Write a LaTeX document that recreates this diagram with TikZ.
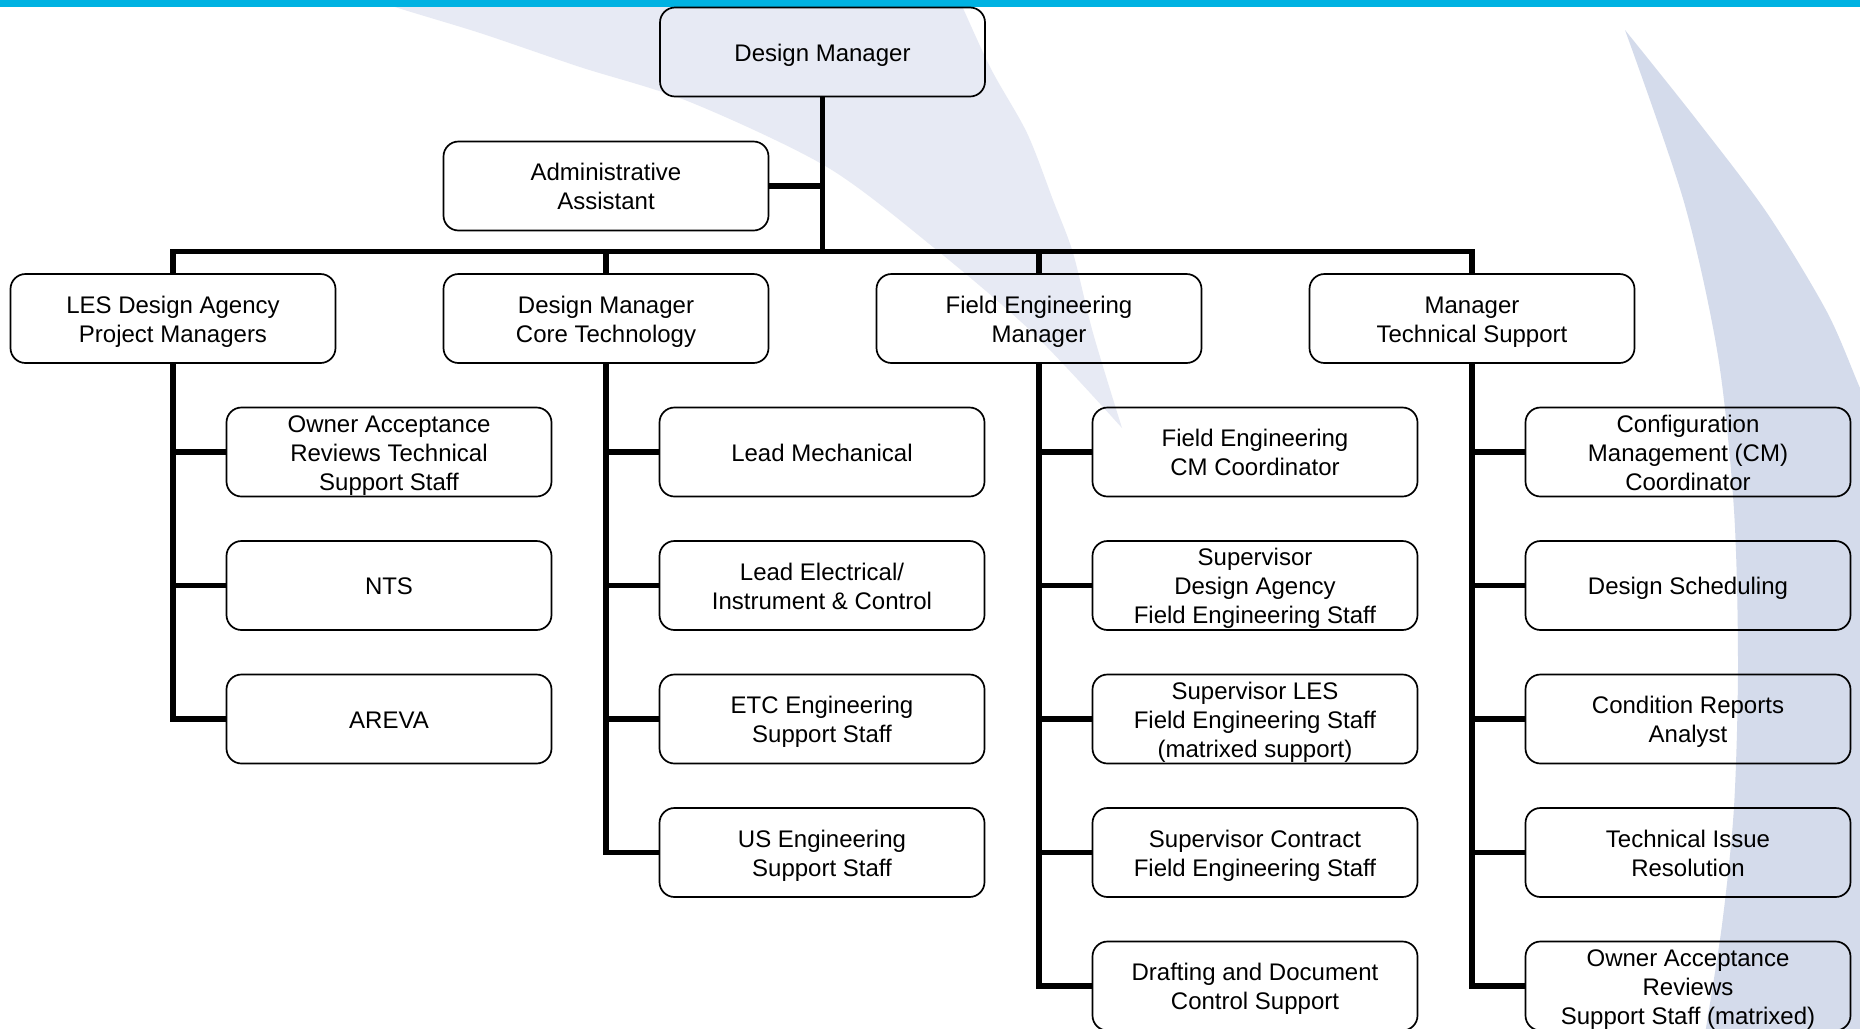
\documentclass[tikz,border=0pt]{standalone}
\usepackage{fontspec}
\setmainfont{Liberation Sans}
\definecolor{bandcyan}{RGB}{0,178,226}
\definecolor{swooshlight}{RGB}{231,234,244}
\definecolor{swooshdark}{RGB}{212,219,235}
% struts for the first and last line of a box, so that every text block
% is centred on its cap height whatever its letters
\newcommand\boxtop{\rule{0pt}{12.4pt}}
\newcommand\boxbot{\rule[-3pt]{0pt}{3pt}}
\begin{document}
\begin{tikzpicture}[x=0.5pt,y=-0.5pt,
  box/.style={draw=black, line width=0.85pt, rounded corners=7.5pt,
    minimum width=162.5pt, minimum height=44.5pt, inner sep=0pt,
    align=center, font=\fontsize{12}{14.5}\selectfont},
  conn/.style={line width=2.8pt, line join=miter}]

\useasboundingbox (0,0) rectangle (1860,1029);
\clip (0,0) rectangle (1860,1029);
\fill[white] (0,0) rectangle (1860,1029);

% background swooshes
\fill[swooshlight]
  plot[smooth] coordinates {(352,-10) (392,6) (480,33) (580,67) (690,102) (827,167) (933,247) (1033,333) (1122,428)}
  -- plot[smooth] coordinates {(1122,428) (1093,333) (1073,253) (1053,200) (1027,133) (990,67) (955,-10)}
  -- cycle;
\fill[swooshdark]
  plot[smooth] coordinates {(1625,30) (1684,202) (1718,356) (1734,510) (1738,664) (1734,807) (1722,925) (1704,1040)}
  -- (1880,1040) -- (1880,430)
  -- plot[smooth] coordinates {(1880,430) (1860,388) (1827,312) (1767,213) (1696,119) (1625,30)}
  -- cycle;

% top band
\fill[bandcyan] (0,0) rectangle (1860,6.5);

% level 0 and 1
\node[box] (dm)  at (822.5,52)  {\boxtop Design Manager\boxbot};
\node[box] (aa)  at (606,186)   {\boxtop Administrative\\Assistant\boxbot};
\node[box] (les) at (173,318.5) {\boxtop LES Design Agency\\Project Managers\boxbot};
\node[box] (dmc) at (606,318.5) {\boxtop Design Manager\\Core Technology\boxbot};
\node[box] (fem) at (1039,318.5){\boxtop Field Engineering\\Manager\boxbot};
\node[box] (mts) at (1472,318.5){\boxtop Manager\\Technical Support\boxbot};

% LES design agency staff
\node[box] (les1) at (389,452)   {\boxtop Owner Acceptance\\Reviews Technical\\Support Staff\boxbot};
\node[box] (les2) at (389,585.5) {\boxtop NTS\boxbot};
\node[box] (les3) at (389,719)   {\boxtop AREVA\boxbot};

% core technology staff
\node[box] (dmc1) at (822,452)   {\boxtop Lead Mechanical\boxbot};
\node[box] (dmc2) at (822,585.5) {\boxtop Lead Electrical/\\Instrument \& Control\boxbot};
\node[box] (dmc3) at (822,719)   {\boxtop ETC Engineering\\Support Staff\boxbot};
\node[box] (dmc4) at (822,852.5) {\boxtop US Engineering\\Support Staff\boxbot};

% field engineering staff
\node[box] (fem1) at (1255,452)   {\boxtop Field Engineering\\CM Coordinator\boxbot};
\node[box] (fem2) at (1255,585.5) {\boxtop Supervisor\\Design Agency\\Field Engineering Staff\boxbot};
\node[box] (fem3) at (1255,719)   {\boxtop Supervisor LES\\Field Engineering Staff\\(matrixed support)\boxbot};
\node[box] (fem4) at (1255,852.5) {\boxtop Supervisor Contract\\Field Engineering Staff\boxbot};
\node[box] (fem5) at (1255,986)   {\boxtop Drafting and Document\\Control Support\boxbot};

% technical support staff
\node[box] (mts1) at (1688,452)   {\boxtop Configuration\\Management (CM)\\Coordinator\boxbot};
\node[box] (mts2) at (1688,585.5) {\boxtop Design Scheduling\boxbot};
\node[box] (mts3) at (1688,719)   {\boxtop Condition Reports\\Analyst\boxbot};
\node[box] (mts4) at (1688,852.5) {\boxtop Technical Issue\\Resolution\boxbot};
\node[box] (mts5) at (1688,986)   {\boxtop Owner Acceptance\\Reviews\\Support Staff (matrixed)\boxbot};

% connectors
\coordinate (bus) at (0,251.5);
\draw[conn] (dm.south) -- (dm.south |- bus);
\draw[conn] (aa.east) -- (aa.east -| dm.south);
\draw[conn] (les.north) -- (les.north |- bus) -| (mts.north);
\draw[conn] (dmc.north) -- (dmc.north |- bus);
\draw[conn] (fem.north) -- (fem.north |- bus);

\draw[conn] (les.south) |- (les3.west);
\foreach \c in {les1,les2} \draw[conn] (les.south |- \c.west) -- (\c.west);

\draw[conn] (dmc.south) |- (dmc4.west);
\foreach \c in {dmc1,dmc2,dmc3} \draw[conn] (dmc.south |- \c.west) -- (\c.west);

\draw[conn] (fem.south) |- (fem5.west);
\foreach \c in {fem1,fem2,fem3,fem4} \draw[conn] (fem.south |- \c.west) -- (\c.west);

\draw[conn] (mts.south) |- (mts5.west);
\foreach \c in {mts1,mts2,mts3,mts4} \draw[conn] (mts.south |- \c.west) -- (\c.west);

\end{tikzpicture}
\end{document}
